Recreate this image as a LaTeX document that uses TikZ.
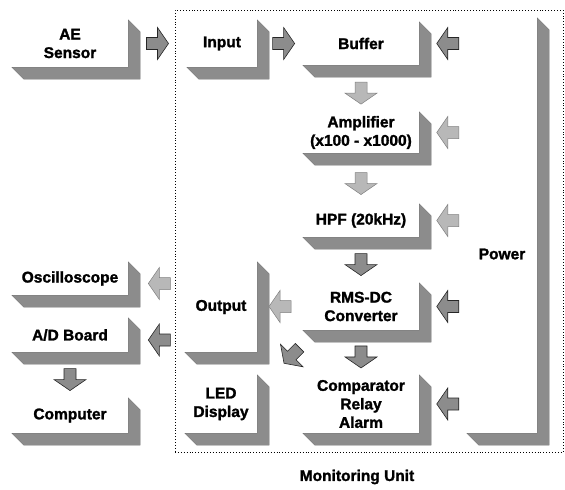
\documentclass[tikz,border=0pt]{standalone}
\usepackage{fontspec}
\setmainfont{Liberation Sans}
\newfontfamily\heavyfont{Liberation Sans Bold}[FakeBold=1.6]
\usetikzlibrary{calc}
\newcommand\boxshade[1]{\path[shadowcol] (#1.south west) -- (#1.south east) -- (#1.north east) -- ([shift={(12,12)}]#1.north east) -- ([shift={(12,12)}]#1.south east) -- ([shift={(12,12)}]#1.south west) -- cycle;}
\begin{document}
\begin{tikzpicture}[x=1pt,y=-1pt,
  face/.style={fill=white, inner sep=0pt, align=center, font=\heavyfont\fontsize{15.5}{18.5}\selectfont},
  lbl/.style={inner sep=0pt, align=center, font=\heavyfont\fontsize{15.5}{18.5}\selectfont},
  shadowcol/.style={fill=black!45, draw=black!55, line width=0.4pt},
  dark/.style={fill=black!45, draw=black!85, line width=0.6pt},
  light/.style={fill=black!28, draw=black!50, line width=0.5pt},
  barrow/.pic={\path[pic actions] (-11,-6) -- (0,-6) -- (0,-16) -- (11,0) -- (0,16) -- (0,6) -- (-11,6) -- cycle;},
]
\useasboundingbox (0,0) rectangle (565,490);
% monitoring unit frame
\node[draw=black, dotted, line width=0.9pt, minimum width=388pt, minimum height=442pt, inner sep=0pt] (unit) at (369,231) {};
\node[lbl] (unitlabel) at (357,477) {Monitoring Unit};

% boxes
\node[face, minimum width=116pt, minimum height=47pt] (ae) at (70,43.5) {AE\\Sensor};
\node[face, minimum width=70pt, minimum height=47pt] (input) at (222,43.5) {Input};
\node[face, minimum width=116pt, minimum height=43pt] (buffer) at (361,43.5) {Buffer};
\node[face, minimum width=116pt, minimum height=41pt] (amp) at (361,132.5) {Amplifier\\(x100 - x1000)};
\node[face, minimum width=116pt, minimum height=33pt] (hpf) at (361,220.5) {HPF (20kHz)};
\node[face, minimum width=116pt, minimum height=47pt] (rms) at (361,306.5) {RMS-DC\\Converter};
\node[face, minimum width=116pt, minimum height=58pt] (comp) at (361,404) {Comparator\\Relay\\Alarm};
\node[face, minimum width=70pt, minimum height=415pt] (power) at (502,225.5) {};
\node[lbl] (powerlabel) at (502,254) {Power};
\node[face, minimum width=72pt, minimum height=90pt] (output) at (221,307) {Output};
\node[face, minimum width=72pt, minimum height=58pt] (led) at (221,404) {LED\\Display};
\node[face, minimum width=116pt, minimum height=33pt] (osc) at (70,278.5) {Oscilloscope};
\node[face, minimum width=116pt, minimum height=34pt] (ad) at (70,335) {A/D Board};
\node[face, minimum width=116pt, minimum height=35pt] (computer) at (70,415.5) {Computer};

\foreach \b in {ae,input,buffer,amp,hpf,rms,comp,power,output,led,osc,ad,computer}{\boxshade{\b}}

% block arrows
\path ($(ae.east)!.5!(input.west)$) pic[dark] {barrow};
\path ($(input.east)!.58!(buffer.west)$) pic[dark] {barrow};
\path ($(buffer.east)!.6!(power.west |- buffer.east)$) pic[dark, rotate=180] {barrow};
\path ($(buffer.south)!.6!(amp.north)$) pic[light, rotate=-90] {barrow};
\path ($(amp.east)!.6!(power.west |- amp.east)$) pic[light, rotate=180] {barrow};
\path ($(amp.south)!.6!(hpf.north)$) pic[light, rotate=-90] {barrow};
\path ($(hpf.east)!.6!(power.west |- hpf.east)$) pic[light, rotate=180] {barrow};
\path ($(hpf.south)!.6!(rms.north)$) pic[dark, rotate=-90] {barrow};
\path ($(rms.east)!.6!(power.west |- rms.east)$) pic[dark, rotate=180] {barrow};
\path ($(rms.south)!.6!(comp.north)$) pic[dark, rotate=-90] {barrow};
\path ($(comp.east)!.6!(power.west |- comp.east)$) pic[dark, rotate=180] {barrow};
\path ($(output.east |- rms.west)!.5!(rms.west)$) pic[light, rotate=180] {barrow};
\path ($(rms.south west)!.5!(comp.north west)+(-11,3)$) pic[dark, rotate=-135] {barrow};
\path ($(osc.east)!.55!(output.west |- osc.east)+(0,5)$) pic[light, rotate=180] {barrow};
\path ($(ad.east)!.55!(output.west |- ad.east)+(0,5)$) pic[dark, rotate=180] {barrow};
\path ($(ad.south)!.6!(computer.north)$) pic[dark, rotate=-90] {barrow};
\end{tikzpicture}
\end{document}
